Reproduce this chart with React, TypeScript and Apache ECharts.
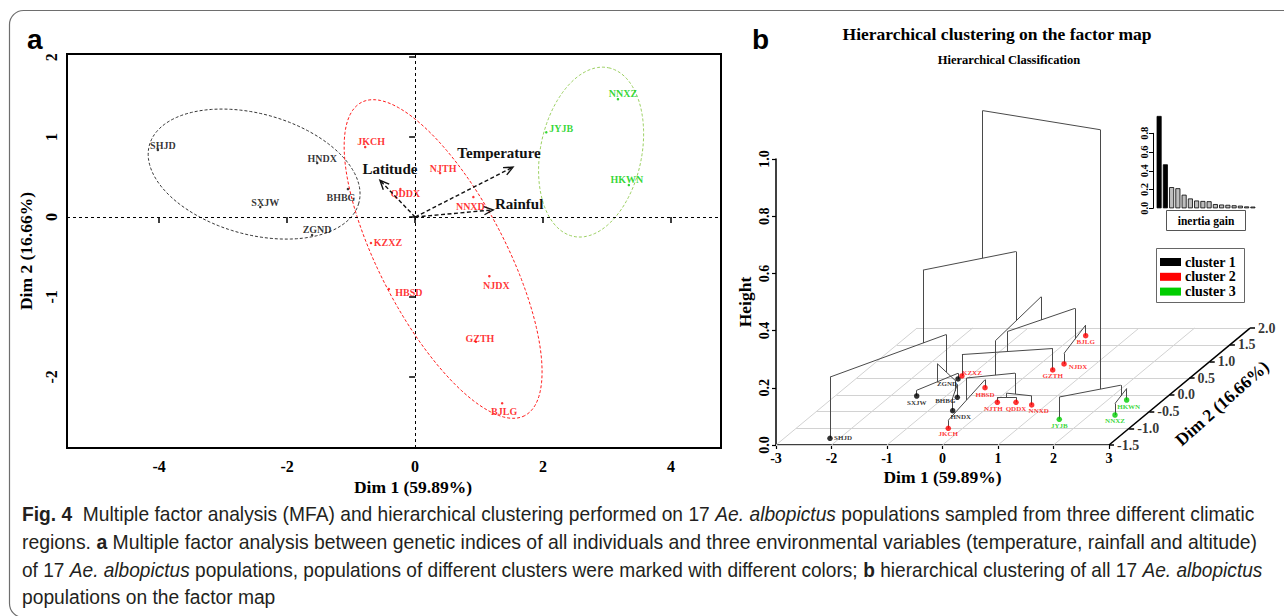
import React, { useEffect, useRef } from 'react';
import * as echarts from 'echarts';

const SERIF = '"Liberation Serif", "Times New Roman", Times, serif';
const SANS = '"Liberation Sans", Arial, Helvetica, sans-serif';

// ================= Panel a : MFA factor map =================
const populations = ['SHJD', 'HNDX', 'BHBG', 'SXJW', 'ZGND', 'JKCH', 'QDDX', 'NJTH', 'NNXD', 'KZXZ', 'HBSD', 'NJDX', 'GZTH', 'BJLG', 'NNXZ', 'JYJB', 'HKWN'];
const clusterOf = [1, 1, 1, 1, 1, 2, 2, 2, 2, 2, 2, 2, 2, 2, 3, 3, 3];
const mfaDim1 = [-4.02, -1.53, -1.05, -2.42, -1.61, -0.78, -0.23, 0.39, 0.91, -0.69, -0.41, 1.16, 0.95, 1.36, 3.17, 2.05, 3.34];
const mfaDim2 = [0.84, 0.675, 0.35, 0.125, -0.225, 0.875, 0.35, 0.55, 0.25, -0.325, -0.9, -0.74, -1.56, -2.33, 1.475, 1.06, 0.4];
const variableNames = ['Latitude', 'Temperature', 'Rainful'];
const variableDim1 = [-0.55, 1.53, 1.22];
const variableDim2 = [0.46, 0.625, 0.09];
const ellipseCenter = [[-2.516, 0.5375], [0.4375, -0.525], [2.75, 0.8125]];
const ellipseAxisU = [[1.636, -0.363], [1.275, -1.96], [0.273, 1.055]];
const ellipseAxisV = [[-0.252, -0.728], [-0.875, -0.364], [0.774, -0.128]];
const mfaDim1Ticks = [-4, -2, 0, 2, 4];
const mfaDim2Ticks = [-2, -1, 0, 1, 2];

// ================= Panel b : hierarchical clustering on the factor map =================
const hcDim1 = [-2.173, -0.562, -0.77, -1.53, -1.155, -0.259, 0.396, 0.06, 0.737, -1.15, -0.48, 0.429, 0.355, 0.204, 2.456, 1.546, 2.34];
const hcDim2 = [-1.299, -0.473, -0.072, -0.033, 0.476, -1.0, -0.222, -0.222, -0.302, 0.566, 0.216, 0.925, 0.746, 1.772, -0.602, -0.731, -0.153];
// merges in order; internal nodes are referred to as m1, m2, ...
const merges: [string, string, number][] = [
  ['SXJW', 'ZGND', 0.02],
  ['BHBG', 'HNDX', 0.045],
  ['m1', 'm2', 0.083],
  ['SHJD', 'm3', 0.214],
  ['NJTH', 'QDDX', 0.018],
  ['m5', 'NNXD', 0.032],
  ['JKCH', 'HBSD', 0.028],
  ['m7', 'm6', 0.105],
  ['BJLG', 'NJDX', 0.037],
  ['KZXZ', 'GZTH', 0.075],
  ['m10', 'm9', 0.145],
  ['m8', 'm11', 0.226],
  ['NNXZ', 'HKWN', 0.04],
  ['JYJB', 'm13', 0.078],
  ['m4', 'm12', 0.469],
  ['m15', 'm14', 0.985],
];
const inertiaGain = [0.985, 0.469, 0.226, 0.214, 0.145, 0.105, 0.083, 0.078, 0.075, 0.045, 0.04, 0.037, 0.032, 0.028, 0.02, 0.018];
const heightTicks = [0, 0.2, 0.4, 0.6, 0.8, 1.0];
const dim1Ticks3d = [-3, -2, -1, 0, 1, 2, 3];
const dim2Ticks3d = [-1.5, -1.0, -0.5, 0.0, 0.5, 1.0, 1.5, 2.0];
const clusterNames = ['cluster 1', 'cluster 2', 'cluster 3'];

// ================= styles =================
const clusterColors = ['#000000', '#ff0000', '#00cd00'];
const ellipseColors = ['#333333', '#ff1a1a', '#9bd060'];
const mfaLabelOffset: Record<string, number[]> = {
  SHJD: [5, -4], HNDX: [5, -5], BHBG: [-7, 8], SXJW: [5, -5], ZGND: [5, -6], JKCH: [6, -6], QDDX: [5, 4], NJTH: [3, -5], NNXD: [-3, 9],
  KZXZ: [17, -1], HBSD: [20, 4], NJDX: [7, 9], GZTH: [4, -3], BJLG: [2, 8], NNXZ: [5, -6], JYJB: [15, -4], HKWN: [-2, -6],
};
const hcLabelOffset: Record<string, number[]> = {
  SHJD: [13, 0], HNDX: [8, 6], BHBG: [-12, 4], SXJW: [0, 7], ZGND: [-11, 5], JKCH: [0, 6], QDDX: [0, 7], NJTH: [-4, 7], NNXD: [7, 6],
  KZXZ: [10, -3], HBSD: [0, 7], NJDX: [14, 3], GZTH: [0, 6], BJLG: [0, 6], NNXZ: [0, 6], JYJB: [0, 7], HKWN: [2, 7],
};
const varLabelOffset = [[10, -11], [-14, -14], [26, -6]];
// oblique projection of the Dim 2 (depth) axis onto the Dim1 / Height plane
const DEPTH_X = 0.7261;
const DEPTH_Y = 0.1168;
const proj = (d1: number, d2: number, h: number): number[] => [
  d1 + (d2 - dim2Ticks3d[0]) * DEPTH_X,
  h + (d2 - dim2Ticks3d[0]) * DEPTH_Y,
];

const captionLines: [string, string][][] = [
  [['b', 'Fig. 4'], ['n', '  Multiple factor analysis (MFA) and hierarchical clustering performed on 17 '], ['i', 'Ae. albopictus'], ['n', ' populations sampled from three different climatic']],
  [['n', 'regions. '], ['b', 'a'], ['n', ' Multiple factor analysis between genetic indices of all individuals and three environmental variables (temperature, rainfall and altitude)']],
  [['n', 'of 17 '], ['i', 'Ae. albopictus'], ['n', ' populations, populations of different clusters were marked with different colors; '], ['b', 'b'], ['n', ' hierarchical clustering of all 17 '], ['i', 'Ae. albopictus']],
  [['n', 'populations on the factor map']],
];
const captionRight = [1254, 1258, 1262, 0];
const CAP_SIZE = 20;

function buildOption() {
  const series: any[] = [];

  // ---- panel a ----
  ellipseCenter.forEach((c, k) => {
    const u = ellipseAxisU[k];
    const v = ellipseAxisV[k];
    const pts: number[][] = [];
    for (let j = 0; j <= 200; j++) {
      const t = (j / 200) * Math.PI * 2;
      pts.push([c[0] + u[0] * Math.cos(t) + v[0] * Math.sin(t), c[1] + u[1] * Math.cos(t) + v[1] * Math.sin(t)]);
    }
    const s: any = {
      type: 'line', xAxisIndex: 0, yAxisIndex: 0, data: pts, showSymbol: false, symbol: 'none', silent: true,
      lineStyle: { color: ellipseColors[k], width: 1, type: [3, 2] }, z: 2,
    };
    if (k === 0) {
      s.markLine = {
        silent: true, symbol: 'none', label: { show: false },
        lineStyle: { color: '#000', width: 1, type: [3, 3] },
        data: [{ xAxis: 0 }, { yAxis: 0 }],
      };
    }
    series.push(s);
  });

  [1, 2, 3].forEach((cl) => {
    const data = populations
      .map((p, i) => ({ p, i }))
      .filter((o) => clusterOf[o.i] === cl)
      .map((o) => ({ name: o.p, value: [mfaDim1[o.i], mfaDim2[o.i]], label: { offset: mfaLabelOffset[o.p] } }));
    series.push({
      type: 'scatter', xAxisIndex: 0, yAxisIndex: 0, data, symbolSize: 2.5, silent: true,
      itemStyle: { color: clusterColors[cl - 1] },
      label: { show: true, position: 'inside', formatter: '{b}', color: clusterColors[cl - 1], fontFamily: SERIF, fontWeight: 'bold', fontSize: 10 },
      z: 4,
    });
  });

  series.push({
    type: 'custom', xAxisIndex: 0, yAxisIndex: 0, silent: true, z: 5,
    data: variableNames.map((n, i) => [variableDim1[i], variableDim2[i], i]),
    renderItem: (params: any, api: any) => {
      const o = api.coord([0, 0]);
      const p = api.coord([api.value(0), api.value(1)]);
      const idx = api.value(2);
      const ang = Math.atan2(p[1] - o[1], p[0] - o[0]);
      const L = 10;
      const A = 0.42;
      const h1 = [p[0] - L * Math.cos(ang - A), p[1] - L * Math.sin(ang - A)];
      const h2 = [p[0] - L * Math.cos(ang + A), p[1] - L * Math.sin(ang + A)];
      return {
        type: 'group',
        children: [
          { type: 'line', shape: { x1: o[0], y1: o[1], x2: p[0], y2: p[1] }, style: { stroke: '#111', lineWidth: 1.4, lineDash: [4, 2.5] } },
          { type: 'polyline', shape: { points: [h1, p, h2] }, style: { stroke: '#111', lineWidth: 1.4, fill: null } },
          {
            type: 'text', x: p[0] + varLabelOffset[idx][0], y: p[1] + varLabelOffset[idx][1],
            style: { text: variableNames[idx], fill: '#111', fontSize: 15, fontFamily: SERIF, fontWeight: 'bold', align: 'center', verticalAlign: 'middle', textAlign: 'center', textVerticalAlign: 'middle' },
          },
        ],
      };
    },
  });

  // ---- panel b ----
  const nodes: Record<string, { d1: number; d2: number; h: number; n: number }> = {};
  populations.forEach((p, i) => { nodes[p] = { d1: hcDim1[i], d2: hcDim2[i], h: 0, n: 1 }; });
  const treeSegs: number[][][] = [];
  merges.forEach(([a, b, h], k) => {
    const A = nodes[a];
    const B = nodes[b];
    treeSegs.push([proj(A.d1, A.d2, A.h), proj(A.d1, A.d2, h)]);
    treeSegs.push([proj(B.d1, B.d2, B.h), proj(B.d1, B.d2, h)]);
    treeSegs.push([proj(A.d1, A.d2, h), proj(B.d1, B.d2, h)]);
    const n = A.n + B.n;
    nodes['m' + (k + 1)] = { d1: (A.d1 * A.n + B.d1 * B.n) / n, d2: (A.d2 * A.n + B.d2 * B.n) / n, h, n };
  });

  const d1Min = dim1Ticks3d[0];
  const d1Max = dim1Ticks3d[dim1Ticks3d.length - 1];
  const d2Min = dim2Ticks3d[0];
  const d2Max = dim2Ticks3d[dim2Ticks3d.length - 1];
  const gridSegs: number[][][] = [];
  dim2Ticks3d.forEach((t) => gridSegs.push([proj(d1Min, t, 0), proj(d1Max, t, 0)]));
  dim1Ticks3d.forEach((t) => gridSegs.push([proj(t, d2Min, 0), proj(t, d2Max, 0)]));

  const axisSegs: number[][][] = [[proj(d1Max, d2Min, 0), proj(d1Max, d2Max, 0)]];
  dim2Ticks3d.forEach((t) => {
    const q = proj(d1Max, t, 0);
    axisSegs.push([q, [q[0] + 0.09, q[1]]]);
  });

  const linesBase = { type: 'lines', coordinateSystem: 'cartesian2d', xAxisIndex: 1, yAxisIndex: 1, polyline: false, clip: false, silent: true };
  series.push({ ...linesBase, data: gridSegs.map((s) => ({ coords: s })), lineStyle: { color: '#d2d2d2', width: 1, opacity: 1, curveness: 0 }, z: 1 });
  series.push({ ...linesBase, data: axisSegs.map((s) => ({ coords: s })), lineStyle: { color: '#000', width: 1.5, opacity: 1, curveness: 0 }, z: 2 });
  series.push({ ...linesBase, data: treeSegs.map((s) => ({ coords: s })), lineStyle: { color: '#4a4a4a', width: 1, opacity: 1, curveness: 0 }, z: 3 });

  series.push({
    type: 'scatter', xAxisIndex: 1, yAxisIndex: 1, clip: false, silent: true, symbolSize: 0,
    data: dim2Ticks3d.map((t) => ({ name: t.toFixed(1), value: proj(d1Max, t, 0) })),
    label: { show: true, position: 'right', distance: 8, formatter: '{b}', color: '#000', fontFamily: SERIF, fontWeight: 'bold', fontSize: 14 },
    z: 4,
  });

  [1, 2, 3].forEach((cl) => {
    const data = populations
      .map((p, i) => ({ p, i }))
      .filter((o) => clusterOf[o.i] === cl)
      .map((o) => ({ name: o.p, value: proj(hcDim1[o.i], hcDim2[o.i], 0), label: { offset: hcLabelOffset[o.p] } }));
    series.push({
      type: 'scatter', xAxisIndex: 1, yAxisIndex: 1, clip: false, silent: true, data, symbolSize: 5.5,
      itemStyle: { color: clusterColors[cl - 1] },
      label: { show: true, position: 'inside', formatter: '{b}', color: clusterColors[cl - 1], fontFamily: SERIF, fontWeight: 'bold', fontSize: 7 },
      z: 5,
    });
  });

  // inertia gain inset
  series.push({
    type: 'bar', xAxisIndex: 2, yAxisIndex: 2, clip: false, silent: true, barCategoryGap: '20%',
    data: inertiaGain.map((v, i) => ({ value: v, itemStyle: { color: i < 2 ? '#000' : '#bebebe' } })),
    itemStyle: { borderColor: '#000', borderWidth: 0.8 },
  });

  const tickLabelA = { fontFamily: SERIF, fontWeight: 'bold', fontSize: 16, color: '#000' };
  const tickLabelB = { fontFamily: SERIF, fontWeight: 'bold', fontSize: 14, color: '#000' };
  const titleStyle = { fontFamily: SERIF, fontWeight: 'bold', fontSize: 17.5, color: '#000' };

  // caption measurement (condense the text so each line fills its original width)
  const canvas = document.createElement('canvas');
  const ctx = canvas.getContext('2d') as CanvasRenderingContext2D;
  const fontOf = (k: string) => `${k === 'i' ? 'italic ' : ''}${k === 'b' ? 'bold ' : ''}${CAP_SIZE}px "Liberation Sans"`;
  const scales = captionLines.map((line, li) => {
    let w = 0;
    line.forEach(([k, t]) => { ctx.font = fontOf(k); w += ctx.measureText(t).width; });
    return captionRight[li] > 0 ? (captionRight[li] - 22) / w : 0;
  });
  const avgScale = (scales[0] + scales[1] + scales[2]) / 3;
  const capRich = {
    b: { fontFamily: SANS, fontWeight: 'bold', fontSize: CAP_SIZE, fill: '#231f20', color: '#231f20' },
    n: { fontFamily: SANS, fontWeight: 'normal', fontSize: CAP_SIZE, fill: '#231f20', color: '#231f20' },
    i: { fontFamily: SANS, fontStyle: 'italic', fontWeight: 'normal', fontSize: CAP_SIZE, fill: '#231f20', color: '#231f20' },
  };
  const captionY = [514, 542, 570, 597];
  const captionGraphics = captionLines.map((line, li) => ({
    type: 'text', x: 22, y: captionY[li], scaleX: li < 3 ? scales[li] : avgScale, z: 10,
    style: {
      text: line.map(([k, t]) => `{${k}|${t}}`).join(''),
      rich: capRich, fill: '#231f20', fontFamily: SANS, fontSize: CAP_SIZE,
      verticalAlign: 'middle', textVerticalAlign: 'middle', align: 'left', textAlign: 'left',
    },
  }));

  const txt = (x: number, y: number, text: string, font: any, extra: any = {}) => ({
    type: 'text', x, y, z: 10, ...extra,
    style: { text, fill: font.fill || '#000', fontFamily: font.family || SERIF, fontWeight: font.weight || 'bold', fontSize: font.size, align: font.align || 'center', textAlign: font.align || 'center', verticalAlign: 'middle', textVerticalAlign: 'middle' },
  });

  const graphic: any[] = [
    { type: 'rect', z: -5, shape: { x: 9.5, y: 10.5, width: 1300, height: 607, r: 14 }, style: { fill: '#ffffff', stroke: '#6e6e6e', lineWidth: 1.2 } },
    txt(27, 39, 'a', { size: 28, family: SANS, align: 'left' }),
    txt(752, 39, 'b', { size: 28, family: SANS, align: 'left' }),
    txt(413, 487, 'Dim 1 (59.89%)', { size: 17.5 }),
    txt(997, 34, 'Hierarchical clustering on the factor map', { size: 17.5 }),
    txt(1009, 60, 'Hierarchical Classification', { size: 12.5 }),
    txt(1222, 403, 'Dim 2 (16.66%)', { size: 17.5 }, { rotation: (41.6 * Math.PI) / 180 }),
    { type: 'rect', z: 10, shape: { x: 1166.5, y: 210.5, width: 79, height: 20 }, style: { fill: '#fff', stroke: '#555', lineWidth: 1 } },
    txt(1206, 221, 'inertia gain', { size: 11.5 }),
    { type: 'rect', z: 10, shape: { x: 1156.5, y: 248.5, width: 88, height: 54 }, style: { fill: '#fff', stroke: '#666', lineWidth: 1 } },
    ...clusterNames.flatMap((n, i) => [
      { type: 'rect', z: 11, shape: { x: 1160, y: 258 + i * 14.8, width: 21, height: 8 }, style: { fill: clusterColors[i] } },
      txt(1185, 262 + i * 14.8, n, { size: 14, align: 'left' }),
    ]),
    ...captionGraphics,
  ];

  return {
    animation: false,
    backgroundColor: '#ffffff',
    grid: [
      { left: 67, top: 54, width: 654, height: 394, show: true, borderColor: '#000', borderWidth: 2, backgroundColor: 'transparent', outerBoundsMode: 'none' },
      { left: 776, top: 159, width: 333, height: 286, outerBoundsMode: 'none' },
      { left: 1156, top: 133.3, width: 100, height: 75, outerBoundsMode: 'none' },
    ],
    xAxis: [
      {
        gridIndex: 0, type: 'value', min: -5.44, max: 4.78,
        axisLine: { show: false }, splitLine: { show: false },
        axisTick: { show: true, length: 6, customValues: mfaDim1Ticks, lineStyle: { color: '#000', width: 1.5 } },
        axisLabel: { customValues: mfaDim1Ticks, margin: 10, ...tickLabelA },
      },
      {
        gridIndex: 1, type: 'value', min: dim1Ticks3d[0], max: dim1Ticks3d[dim1Ticks3d.length - 1], interval: 1,
        axisLine: { show: true, onZero: false, lineStyle: { color: '#000', width: 1.5 } }, splitLine: { show: false },
        axisTick: { show: true, length: 4, lineStyle: { color: '#000', width: 1.2 } },
        axisLabel: { margin: 6, ...tickLabelB },
        name: 'Dim 1 (59.89%)', nameLocation: 'middle', nameGap: 23, nameTextStyle: titleStyle,
      },
      { gridIndex: 2, type: 'category', data: inertiaGain.map((_, i) => String(i + 1)), show: false },
    ],
    yAxis: [
      {
        gridIndex: 0, type: 'value', min: -2.89, max: 2.04,
        axisLine: { show: false }, splitLine: { show: false },
        axisTick: { show: true, length: 6, customValues: mfaDim2Ticks, lineStyle: { color: '#000', width: 1.5 } },
        axisLabel: { customValues: mfaDim2Ticks, margin: 8, rotate: 90, ...tickLabelA },
        name: 'Dim 2 (16.66%)', nameLocation: 'middle', nameGap: 28, nameRotate: 90, nameTextStyle: titleStyle,
      },
      {
        gridIndex: 1, type: 'value', min: heightTicks[0], max: heightTicks[heightTicks.length - 1], interval: 0.2,
        axisLine: { show: true, onZero: false, lineStyle: { color: '#000', width: 1.5 } }, splitLine: { show: false },
        axisTick: { show: true, length: 4, lineStyle: { color: '#000', width: 1.2 } },
        axisLabel: { margin: 5, rotate: 90, formatter: (v: number) => v.toFixed(1), ...tickLabelB },
        name: 'Height', nameLocation: 'middle', nameGap: 22, nameRotate: 90, nameTextStyle: titleStyle,
      },
      {
        gridIndex: 2, type: 'value', min: 0, max: 0.8, interval: 0.2, offset: 3,
        axisLine: { show: true, lineStyle: { color: '#000', width: 1 } }, splitLine: { show: false },
        axisTick: { show: true, length: 4, lineStyle: { color: '#000', width: 1 } },
        axisLabel: { margin: 3, rotate: 90, formatter: (v: number) => v.toFixed(1), fontFamily: SERIF, fontWeight: 'bold', fontSize: 10.5, color: '#000' },
      },
    ],
    graphic,
    series,
  };
}

export default function App() {
  const ref = useRef<HTMLDivElement>(null);
  useEffect(() => {
    if (!ref.current) return;
    const chart = echarts.init(ref.current, null, { renderer: 'svg' });
    chart.setOption(buildOption() as any);
    return () => chart.dispose();
  }, []);
  return <div ref={ref} style={{ position: 'absolute', left: 0, top: 0, width: 1284, height: 616, background: '#fff' }} />;
}
